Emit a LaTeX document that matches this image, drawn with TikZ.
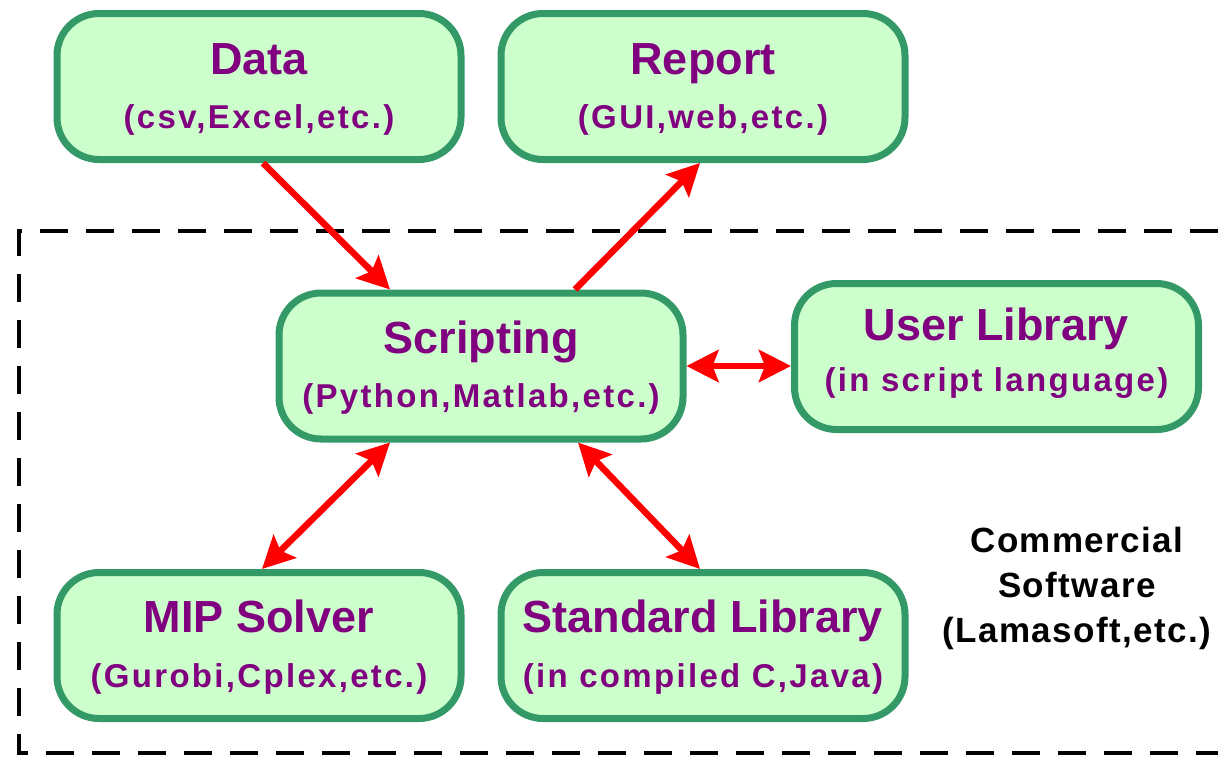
\documentclass[tikz,border=0pt]{standalone}
\usepackage{fontspec}
\setmainfont{Liberation Sans}
\newfontfamily\subfont[LetterSpace=7]{Liberation Sans}
\newfontfamily\notefont[LetterSpace=4]{Liberation Sans}
\usetikzlibrary{arrows.meta}
\definecolor{boxfill}{HTML}{CCFFCC}
\definecolor{boxline}{HTML}{339966}
\definecolor{txt}{HTML}{800080}
\tikzset{
  box/.style={draw=boxline, fill=boxfill, line width=7pt, rounded corners=42pt,
    minimum width=404pt, minimum height=146pt, inner sep=0pt},
  ttl/.style={text=txt, font=\fontsize{45}{54}\selectfont\bfseries, anchor=base, inner sep=0pt},
  sub/.style={text=txt, font=\subfont\fontsize{33}{40}\selectfont\bfseries, anchor=base, inner sep=0pt},
  tip/.tip={Stealth[length=32pt,width=32pt,inset=6pt]},
  arr/.style={draw=red, line width=6.5pt, -tip},
  dbl/.style={draw=red, line width=6.5pt, tip-tip},
  frame/.style={draw=black, line width=4pt, dash pattern=on 28pt off 18pt},
  note/.style={text=black, font=\notefont\fontsize{35}{45}\selectfont\bfseries, align=center, inner sep=0pt}
}
\begin{document}
\begin{tikzpicture}[x=1pt,y=-1pt]
\useasboundingbox (0,0) rectangle (1218,756);
\coordinate (f1) at (1218,231);
\coordinate (f2) at (19,231);
\coordinate (f3) at (19,753);
\coordinate (f4) at (1218,753);
\draw[frame] (f1) -- (f2) -- (f3) -- (f4);

\node[box] (data) at (259,86.5) {};
\node[ttl] (dataA) at ([yshift=12.5pt]data.center) {Data};
\node[sub] (dataB) at ([yshift=-41.5pt]data.center) {(csv,Excel,etc.)};

\node[box] (rep) at (703,86.5) {};
\node[ttl] (repA) at ([yshift=12.5pt]rep.center) {Report};
\node[sub] (repB) at ([yshift=-41.5pt]rep.center) {(GUI,web,etc.)};

\node[box] (scr) at (481,366) {};
\node[ttl] (scrA) at ([yshift=12.5pt]scr.center) {Scripting};
\node[sub] (scrB) at ([yshift=-41.5pt]scr.center) {(Python,Matlab,etc.)};

\node[box] (usr) at (996.5,356.5) {};
\node[ttl] (usrA) at ([yshift=16.5pt]usr.center) {User Library};
\node[sub] (usrB) at ([yshift=-34.5pt]usr.center) {(in script language)};

\node[box] (mip) at (259,645.5) {};
\node[ttl] (mipA) at ([yshift=13pt]mip.center) {MIP Solver};
\node[sub] (mipB) at ([yshift=-41.5pt]mip.center) {(Gurobi,Cplex,etc.)};

\node[box] (std) at (703,645.5) {};
\node[ttl] (stdA) at ([yshift=13pt]std.center) {Standard Library};
\node[sub] (stdB) at ([yshift=-41.5pt]std.center) {(in compiled C,Java)};

\node[note] (comm) at (1077,588) {Commercial\\Software\\(Lamasoft,etc.)};

\draw[arr] ([xshift=4pt]data.south) -- ([xshift=-91pt]scr.north);
\draw[arr] ([xshift=94pt]scr.north) -- ([xshift=-3pt]rep.south);
\draw[dbl] (scr.east) -- (scr.east -| usr.west);
\draw[dbl] ([xshift=-91pt]scr.south) -- ([xshift=3pt]mip.north);
\draw[dbl] ([xshift=97pt]scr.south) -- ([xshift=-3pt]std.north);
\end{tikzpicture}
\end{document}
